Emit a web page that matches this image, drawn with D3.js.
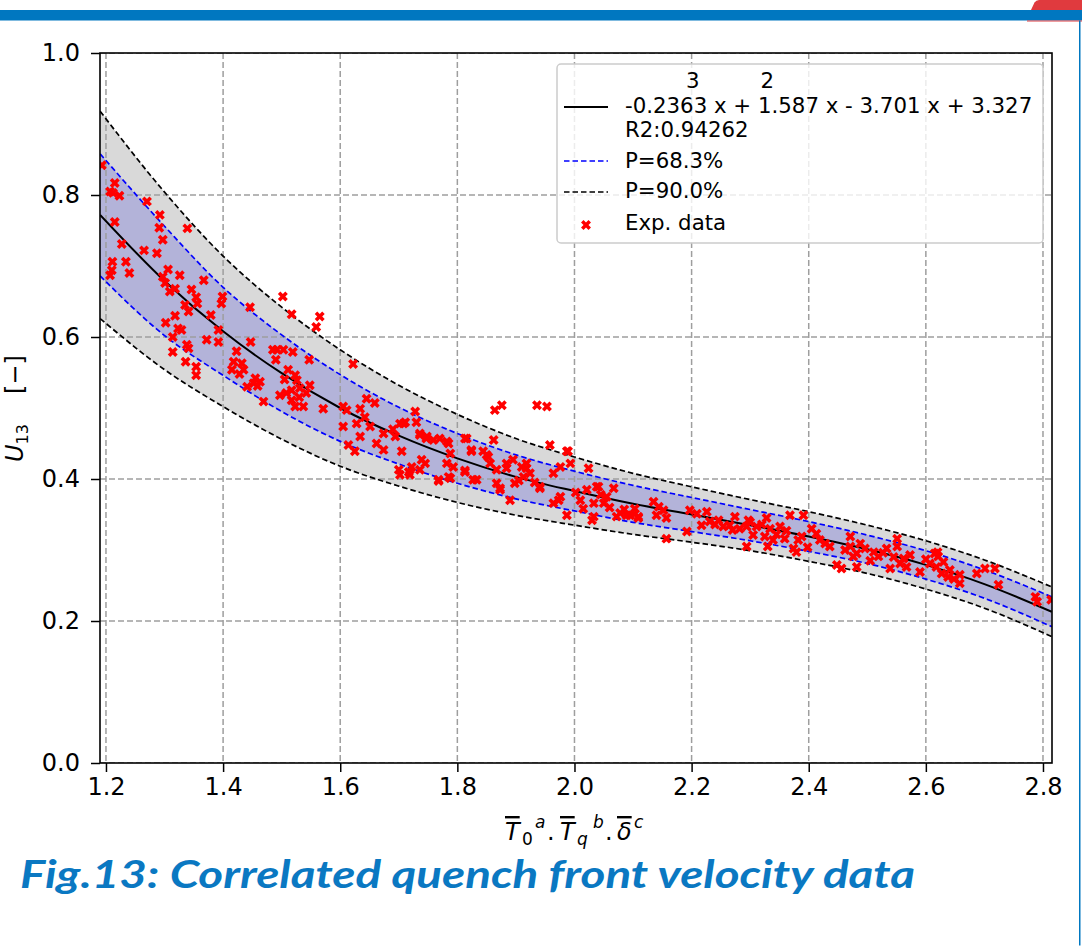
<!DOCTYPE html>
<html>
<head>
<meta charset="utf-8">
<script src="https://cdn.jsdelivr.net/npm/d3@7"></script>
<style>
  body { margin: 0; background: #fff; }
  svg { display: block; }
</style>
</head>
<body>
<svg id="svg" width="1082" height="946"></svg>
<script>
// tick values
const xTicks = [1.2, 1.4, 1.6, 1.8, 2.0, 2.2, 2.4, 2.6, 2.8]
const yTicks = [0.0, 0.2, 0.4, 0.6, 0.8, 1.0]

// fitted curve and prediction bands
const bandX   = [1.19, 1.3, 1.4, 1.5, 1.6, 1.7, 1.8, 1.9, 2.0, 2.1, 2.2, 2.3, 2.4, 2.5, 2.6, 2.7, 2.815]
const fitY    = [0.772, 0.679, 0.608, 0.549, 0.500, 0.461, 0.429, 0.403, 0.383, 0.365, 0.350, 0.335, 0.319, 0.301, 0.279, 0.252, 0.213]
const upper68 = [0.858, 0.756, 0.670, 0.603, 0.547, 0.501, 0.464, 0.434, 0.411, 0.391, 0.374, 0.357, 0.340, 0.321, 0.299, 0.272, 0.234]
const lower68 = [0.686, 0.602, 0.546, 0.495, 0.453, 0.421, 0.394, 0.372, 0.355, 0.339, 0.326, 0.313, 0.298, 0.281, 0.259, 0.232, 0.192]
const upper90 = [0.918, 0.804, 0.714, 0.642, 0.582, 0.532, 0.491, 0.457, 0.431, 0.408, 0.389, 0.371, 0.354, 0.335, 0.313, 0.286, 0.248]
const lower90 = [0.626, 0.554, 0.502, 0.456, 0.418, 0.390, 0.367, 0.349, 0.335, 0.322, 0.311, 0.299, 0.284, 0.267, 0.245, 0.218, 0.178]

// experimental points [x, U13]
const expData = [
  [1.193,0.842],[1.215,0.817],[1.207,0.805],[1.223,0.799],[1.212,0.803],[1.270,0.791],[1.292,0.772],[1.215,0.762],
  [1.339,0.753],[1.291,0.754],[1.297,0.737],[1.227,0.731],[1.265,0.722],[1.287,0.718],[1.211,0.706],[1.234,0.706],
  [1.210,0.694],[1.207,0.687],[1.240,0.690],[1.297,0.685],[1.326,0.687],[1.367,0.680],[1.301,0.676],[1.309,0.664],
  [1.318,0.668],[1.346,0.667],[1.354,0.656],[1.356,0.647],[1.335,0.645],[1.341,0.636],[1.399,0.657],[1.397,0.647],
  [1.379,0.631],[1.318,0.630],[1.302,0.620],[1.323,0.612],[1.329,0.610],[1.314,0.600],[1.338,0.589],[1.341,0.584],
  [1.314,0.579],[1.336,0.565],[1.354,0.558],[1.354,0.546],[1.392,0.610],[1.392,0.593],[1.423,0.580],[1.447,0.593],
  [1.432,0.563],[1.418,0.565],[1.435,0.554],[1.415,0.554],[1.441,0.530],[1.455,0.542],[1.452,0.535],[1.463,0.537],
  [1.469,0.509],[1.485,0.582],[1.492,0.582],[1.503,0.582],[1.519,0.579],[1.490,0.568],[1.511,0.554],[1.523,0.546],
  [1.526,0.539],[1.497,0.518],[1.508,0.521],[1.517,0.525],[1.531,0.528],[1.542,0.521],[1.517,0.511],[1.523,0.502],
  [1.537,0.502],[1.547,0.568],[1.502,0.657],[1.517,0.632],[1.565,0.629],[1.559,0.614],[1.571,0.499],[1.605,0.502],
  [1.446,0.642],[1.428,0.548],[1.459,0.531],[1.530,0.515],[1.548,0.532],[1.505,0.540],[1.372,0.596],[1.306,0.695],
  [1.622,0.562],[1.605,0.474],[1.611,0.497],[1.634,0.499],[1.628,0.478],[1.645,0.513],[1.659,0.507],[1.634,0.460],
  [1.614,0.448],[1.625,0.439],[1.651,0.474],[1.662,0.450],[1.674,0.464],[1.694,0.460],[1.702,0.478],[1.711,0.480],
  [1.728,0.495],[1.730,0.480],[1.736,0.464],[1.748,0.460],[1.759,0.455],[1.770,0.457],[1.782,0.453],[1.705,0.439],
  [1.674,0.441],[1.702,0.406],[1.719,0.406],[1.722,0.417],[1.739,0.427],[1.745,0.422],[1.736,0.413],[1.768,0.399],
  [1.785,0.403],[1.782,0.422],[1.788,0.436],[1.793,0.417],[1.813,0.457],[1.824,0.439],[1.813,0.410],[1.833,0.399],
  [1.844,0.439],[1.850,0.434],[1.856,0.422],[1.862,0.455],[1.864,0.497],[1.876,0.504],[1.867,0.394],[1.873,0.385],
  [1.867,0.413],[1.890,0.370],[1.884,0.422],[1.898,0.394],[1.895,0.427],[1.910,0.417],[1.913,0.403],[1.918,0.422],
  [1.924,0.408],[1.936,0.504],[1.953,0.502],[1.958,0.448],[1.941,0.387],[1.964,0.408],[1.976,0.417],[1.987,0.439],
  [1.993,0.422],[1.973,0.370],[1.987,0.349],[2.010,0.370],[2.021,0.385],[2.024,0.415],[2.033,0.366],[2.041,0.389],
  [2.050,0.366],[2.055,0.375],[2.067,0.387],[2.072,0.347],[2.095,0.349],[2.103,0.358],[2.109,0.347],[2.033,0.347],
  [1.708,0.478],[1.736,0.462],[1.747,0.457],[1.785,0.450],[1.816,0.457],[1.824,0.441],[1.853,0.431],[1.989,0.439],
  [2.038,0.389],[2.030,0.342],[1.873,0.387],[1.941,0.389],[1.964,0.366],[1.976,0.375],[1.918,0.415],[1.884,0.415],
  [1.827,0.399],[1.813,0.412],[1.788,0.401],[1.768,0.397],[1.700,0.413],[1.717,0.410],[1.642,0.487],[1.690,0.470],
  [2.060,0.360],[2.078,0.352],[2.085,0.357],[2.015,0.358],[2.045,0.378],[1.905,0.398],[1.932,0.395],[2.002,0.381],
  [2.089,0.349],[2.103,0.351],[2.109,0.345],[2.135,0.368],[2.144,0.361],[2.152,0.356],[2.140,0.349],[2.157,0.345],
  [2.157,0.316],[2.192,0.326],[2.197,0.356],[2.209,0.351],[2.226,0.354],[2.217,0.335],[2.231,0.340],[2.246,0.342],
  [2.254,0.333],[2.265,0.335],[2.274,0.347],[2.282,0.330],[2.294,0.333],[2.297,0.342],[2.305,0.321],[2.311,0.333],
  [2.294,0.305],[2.328,0.345],[2.334,0.330],[2.325,0.319],[2.330,0.305],[2.339,0.314],[2.351,0.333],[2.359,0.316],
  [2.368,0.349],[2.374,0.302],[2.379,0.297],[2.382,0.314],[2.388,0.319],[2.391,0.349],[2.413,0.323],[2.419,0.314],
  [2.428,0.309],[2.436,0.305],[2.448,0.279],[2.456,0.274],[2.471,0.305],[2.476,0.291],[2.471,0.319],[2.482,0.276],
  [2.488,0.309],[2.496,0.302],[2.482,0.295],[2.511,0.297],[2.519,0.291],[2.533,0.302],[2.539,0.274],[2.551,0.316],
  [2.551,0.305],[2.556,0.281],[2.562,0.288],[2.573,0.293],[2.567,0.276],[2.590,0.269],[2.607,0.281],[2.615,0.295],
  [2.621,0.291],[2.618,0.276],[2.627,0.267],[2.638,0.262],[2.641,0.272],[2.658,0.265],[2.658,0.253],[2.687,0.267],
  [2.701,0.274],[2.718,0.274],[2.724,0.251],[2.787,0.234],[2.790,0.227],[2.814,0.230],[2.620,0.297],
  [2.240,0.336],[2.270,0.328],[2.300,0.339],[2.320,0.336],[2.345,0.322],[2.362,0.327],[2.398,0.304],[2.405,0.330],
  [2.462,0.300],[2.505,0.285],[2.527,0.296],[2.545,0.290],[2.600,0.287],[2.630,0.283],[2.648,0.259]
]

const legendLabels = ['P=68.3%', 'P=90.0%', 'Exp. data']
const fitLabel = ['         3         2', '-0.2363 x + 1.587 x - 3.701 x + 3.327', 'R2:0.94262']
const caption = 'Fig.13: Correlated quench front velocity data'

const font = '"DejaVu Sans", sans-serif'
const plotL = 100, plotR = 1052, plotT = 53, plotB = 763

const svg = d3.select('#svg')
svg.append('rect').attr('width', 1082).attr('height', 946).attr('fill', '#fff')

// page banner
svg.append('rect').attr('x', 0).attr('y', 10).attr('width', 1082).attr('height', 10.5).attr('fill', '#0077c0')
svg.append('path').attr('d', 'M1031,10 L1034.5,2.5 Q1036,0 1039,0 L1082,0 L1082,10 Z').attr('fill', '#e03a3e')
svg.append('rect').attr('x', 1027).attr('y', 20.5).attr('width', 55).attr('height', 1).attr('fill', '#e03a3e')
svg.append('rect').attr('x', 1079).attr('y', 20.5).attr('width', 1.5).attr('height', 925).attr('fill', '#0077c0')

const xScale = d3.scaleLinear().domain([1.1898, 2.8154]).range([plotL, plotR])
const yScale = d3.scaleLinear().domain([0, 1]).range([plotB, plotT])

svg.append('defs').append('clipPath').attr('id', 'plotClip')
  .append('rect').attr('x', plotL).attr('y', plotT).attr('width', plotR - plotL).attr('height', plotB - plotT)

const plot = svg.append('g').attr('clip-path', 'url(#plotClip)')
const rows = bandX.map((x, i) => ({ x, fit: fitY[i], u68: upper68[i], l68: lower68[i], u90: upper90[i], l90: lower90[i] }))

const area = (hi, lo) => d3.area()
  .x(d => xScale(d.x)).y0(d => yScale(d[lo])).y1(d => yScale(d[hi]))
  .curve(d3.curveMonotoneX)
const line = key => d3.line()
  .x(d => xScale(d.x)).y(d => yScale(d[key]))
  .curve(d3.curveMonotoneX)

plot.append('path').attr('d', area('u90', 'l90')(rows)).attr('fill', '#d9d9d9')
plot.append('path').attr('d', area('u68', 'l68')(rows)).attr('fill', '#b3b3d9')

// grid
plot.selectAll('.gx').data(xTicks).join('line')
  .attr('x1', d => xScale(d)).attr('x2', d => xScale(d))
  .attr('y1', plotT).attr('y2', plotB)
  .attr('stroke', '#9e9e9e').attr('stroke-width', 1.5).attr('stroke-dasharray', '6,3')
plot.selectAll('.gy').data(yTicks).join('line')
  .attr('y1', d => yScale(d)).attr('y2', d => yScale(d))
  .attr('x1', plotL).attr('x2', plotR)
  .attr('stroke', '#9e9e9e').attr('stroke-width', 1.5).attr('stroke-dasharray', '6,3')

plot.append('path').attr('d', line('u90')(rows)).attr('fill', 'none').attr('stroke', '#000').attr('stroke-width', 1.7).attr('stroke-dasharray', '5.5,3')
plot.append('path').attr('d', line('l90')(rows)).attr('fill', 'none').attr('stroke', '#000').attr('stroke-width', 1.7).attr('stroke-dasharray', '5.5,3')
plot.append('path').attr('d', line('u68')(rows)).attr('fill', 'none').attr('stroke', '#0000ff').attr('stroke-width', 1.7).attr('stroke-dasharray', '5.5,3')
plot.append('path').attr('d', line('l68')(rows)).attr('fill', 'none').attr('stroke', '#0000ff').attr('stroke-width', 1.7).attr('stroke-dasharray', '5.5,3')
plot.append('path').attr('d', line('fit')(rows)).attr('fill', 'none').attr('stroke', '#000').attr('stroke-width', 2)

const marker = d3.symbol().type(d3.symbolCross).size(62)
plot.selectAll('.pt').data(expData).join('path')
  .attr('d', marker)
  .attr('transform', d => `translate(${xScale(d[0])},${yScale(d[1])}) rotate(45)`)
  .attr('fill', '#ff0000')

// frame and axes
svg.append('rect').attr('x', plotL).attr('y', plotT).attr('width', plotR - plotL).attr('height', plotB - plotT)
  .attr('fill', 'none').attr('stroke', '#000').attr('stroke-width', 1.6)

const xAxis = svg.append('g').attr('transform', `translate(0,${plotB})`)
  .call(d3.axisBottom(xScale).tickValues(xTicks).tickFormat(d3.format('.1f')).tickSize(9).tickPadding(6))
const yAxis = svg.append('g').attr('transform', `translate(${plotL},0)`)
  .call(d3.axisLeft(yScale).tickValues(yTicks).tickFormat(d3.format('.1f')).tickSize(9).tickPadding(11))
for (const ax of [xAxis, yAxis]) {
  ax.select('.domain').remove()
  ax.selectAll('line').attr('stroke', '#000').attr('stroke-width', 1.5)
  ax.selectAll('text').attr('fill', '#000').style('font-family', font).style('font-size', '24px')
}

// y label: U13 [-]
const yl = svg.append('text').attr('transform', 'translate(23,462) rotate(-90)')
  .style('font-family', font).style('font-size', '24px').attr('fill', '#000')
yl.append('tspan').style('font-style', 'italic').text('U')
yl.append('tspan').attr('dy', 5).style('font-size', '16px').text('13')
yl.append('tspan').attr('dy', -5).attr('dx', 30).text('[\u2212]')

// x label with overlines
const xl = svg.append('text').style('font-family', font).style('font-size', '24px').attr('fill', '#000')
const xParts = [
  { t: 'T', x: 505, y: 840, it: true, ov: true },
  { t: '0', x: 522, y: 845, sm: true },
  { t: 'a', x: 535, y: 828, it: true, sm: true },
  { t: '.', x: 547, y: 840 },
  { t: 'T', x: 560, y: 840, it: true, ov: true },
  { t: 'q', x: 577, y: 845, it: true, sm: true },
  { t: 'b', x: 593, y: 828, it: true, sm: true },
  { t: '.', x: 605, y: 840 },
  { t: '\u03b4', x: 617, y: 840, it: true, ov: true },
  { t: 'c', x: 634, y: 828, it: true, sm: true }
]
xParts.forEach(p => {
  const s = xl.append('tspan').attr('x', p.x).attr('y', p.y).text(p.t)
  if (p.it) s.style('font-style', 'italic')
  if (p.sm) s.style('font-size', '17px')
  if (p.ov) s.style('text-decoration', 'overline')
})

// legend
const lg = svg.append('g').style('font-family', font).style('font-size', '21.3px')
lg.append('rect').attr('x', 557).attr('y', 64).attr('width', 486).attr('height', 179).attr('rx', 4)
  .attr('fill', '#fff').attr('fill-opacity', 0.8).attr('stroke', '#cccccc').attr('stroke-width', 1.5)
lg.append('line').attr('x1', 564).attr('x2', 608).attr('y1', 107).attr('y2', 107).attr('stroke', '#000').attr('stroke-width', 2)
fitLabel.forEach((t, i) => {
  lg.append('text').attr('x', 625).attr('y', 88 + i * 24.5).attr('xml:space', 'preserve')
    .style('white-space', 'pre').attr('fill', '#000').text(t)
})
lg.append('line').attr('x1', 564).attr('x2', 608).attr('y1', 161).attr('y2', 161).attr('stroke', '#0000ff').attr('stroke-width', 1.7).attr('stroke-dasharray', '5.5,3')
lg.append('line').attr('x1', 564).attr('x2', 608).attr('y1', 192).attr('y2', 192).attr('stroke', '#000').attr('stroke-width', 1.7).attr('stroke-dasharray', '5.5,3')
lg.append('path').attr('d', marker).attr('transform', 'translate(586,225) rotate(45)').attr('fill', '#ff0000')
legendLabels.forEach((t, i) => {
  lg.append('text').attr('x', 625).attr('y', [168, 198, 230][i]).attr('fill', '#000').text(t)
})

// caption
svg.append('text').attr('x', 20).attr('y', 888).attr('textLength', 895).attr('lengthAdjust', 'spacingAndGlyphs')
  .style('font-family', 'Lato, "Open Sans", sans-serif').style('font-size', '39px')
  .style('font-weight', 'bold').style('font-style', 'italic')
  .attr('fill', '#0a78c2').text(caption)
</script>
</body>
</html>
